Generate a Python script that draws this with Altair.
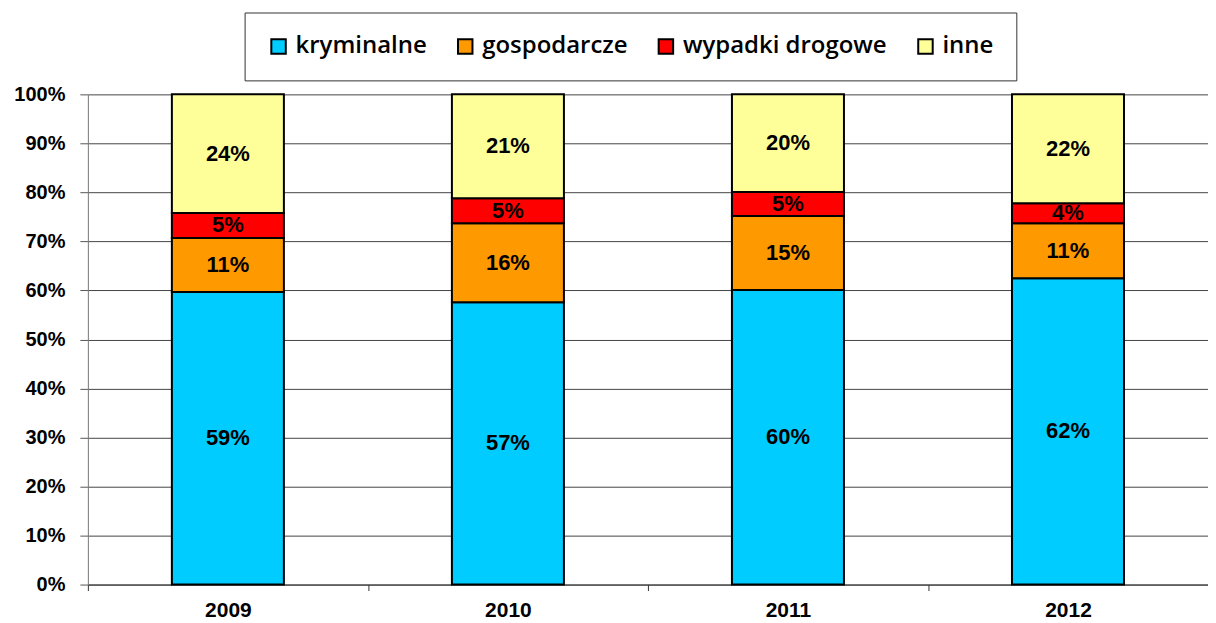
import altair as alt
import pandas as pd

years = ["2009", "2010", "2011", "2012"]
categories = ["kryminalne", "gospodarcze", "wypadki drogowe", "inne"]
colors = ["#00CCFF", "#FF9900", "#FF0000", "#FFFF99"]

kryminalne = [59.7, 57.6, 60.1, 62.5]
gospodarcze = [11.0, 16.1, 15.1, 11.2]
wypadki = [5.1, 5.1, 4.9, 4.1]
inne = [24.2, 21.2, 19.9, 22.2]

labels_kryminalne = ["59%", "57%", "60%", "62%"]
labels_gospodarcze = ["11%", "16%", "15%", "11%"]
labels_wypadki = ["5%", "5%", "5%", "4%"]
labels_inne = ["24%", "21%", "20%", "22%"]

series = [kryminalne, gospodarcze, wypadki, inne]
labels = [labels_kryminalne, labels_gospodarcze, labels_wypadki, labels_inne]

rows = []
for ci, (cat, vals, labs) in enumerate(zip(categories, series, labels)):
    for y, v, l in zip(years, vals, labs):
        rows.append({"rok": y, "kategoria": cat, "wartosc": v, "etykieta": l, "ord": ci})
df = pd.DataFrame(rows)

x_enc = alt.X(
    "rok:N",
    title=None,
    scale=alt.Scale(paddingInner=0, paddingOuter=0),
    axis=alt.Axis(labelAngle=0, tickBand="extent", grid=False),
)
y_scale = alt.Scale(domain=[0, 100], nice=False)

bars = alt.Chart(df).mark_bar(
    width={"band": 0.4}, stroke="black", strokeWidth=2
).encode(
    x=x_enc,
    y=alt.Y(
        "wartosc:Q",
        stack="zero",
        title=None,
        scale=y_scale,
        axis=alt.Axis(values=list(range(0, 101, 10)), labelExpr="datum.value + '%'", grid=True),
    ),
    color=alt.Color(
        "kategoria:N",
        scale=alt.Scale(domain=categories, range=colors),
        legend=alt.Legend(
            title=None,
            orient="none",
            direction="horizontal",
            legendX=157,
            legendY=-82,
            symbolType="square",
            symbolSize=210,
            symbolStrokeColor="black",
            symbolStrokeWidth=2,
            symbolOpacity=1,
            labelFont="Open Sans",
            labelFontWeight=600,
            labelFontSize=24,
            labelLimit=400,
            labelColor="black",
            labelOffset=5,
            columnPadding=26,
            padding=22,
            strokeColor="#333",
            fillColor="white",
        ),
    ),
    order=alt.Order("ord:Q", sort="ascending"),
)

text = alt.Chart(df).transform_stack(
    stack="wartosc", groupby=["rok"], as_=["y0", "y1"], sort=[alt.SortField("ord", order="ascending")]
).transform_calculate(
    mid="(datum.y0 + datum.y1) / 2"
).mark_text(
    font="Liberation Sans", fontWeight="bold", fontSize=22, color="black", baseline="middle"
).encode(
    x=alt.X("rok:N", title=None),
    y=alt.Y("mid:Q", title=None),
    text="etykieta:N",
)

chart = alt.layer(bars, text).properties(
    width=1122,
    height=491,
    autosize=alt.AutoSizeParams(type="none"),
    padding={"left": 80, "top": 86, "right": 0, "bottom": 36},
).configure_view(stroke=None).configure_axis(
    labelFont="Liberation Sans",
    labelFontWeight="bold",
    labelColor="black",
).configure_axisX(
    labelFontSize=21,
    labelPadding=9,
    tickSize=6,
    tickColor="#333",
    domainColor="#333",
    grid=False,
).configure_axisY(
    labelFontSize=20,
    labelPadding=15,
    tickSize=8,
    tickColor="#555",
    domainColor="#777",
    gridColor="#444",
    gridWidth=1,
)

chart.save("out.html", embed_options={"renderer": "svg", "actions": False})
